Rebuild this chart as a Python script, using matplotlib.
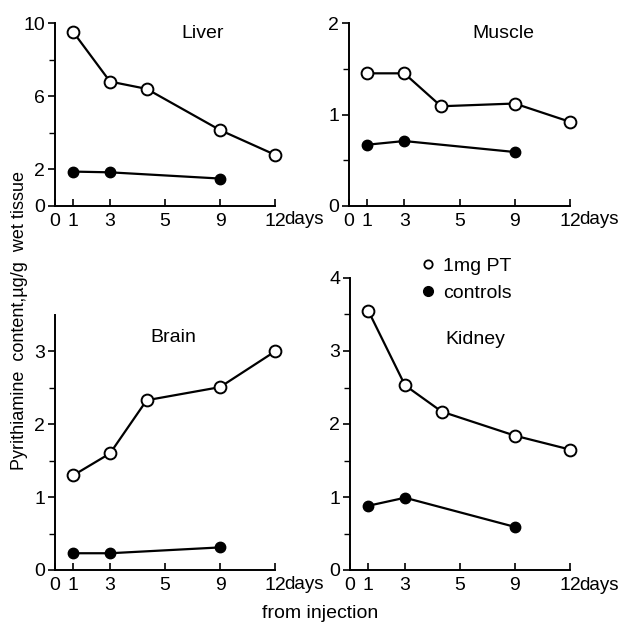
import matplotlib
matplotlib.use("Agg")
import matplotlib.pyplot as plt
from matplotlib.lines import Line2D
from matplotlib.transforms import blended_transform_factory

plt.rcParams['font.family'] = ['Liberation Sans', 'DejaVu Sans']

# day positions on the drawn axis (the original scale is uneven)
days_pt = [1, 3, 5, 9, 12]
days_ctl = [1, 3, 9]
xtick_pos = [0, 1, 3, 6, 9, 12]
xtick_lab = ["0", "1", "3", "5", "9", "12"]

liver_pt = [9.5, 6.8, 6.4, 4.15, 2.8]
liver_ctl = [1.88, 1.84, 1.5]
muscle_pt = [1.45, 1.45, 1.09, 1.12, 0.92]
muscle_ctl = [0.67, 0.71, 0.59]
brain_pt = [1.30, 1.60, 2.33, 2.51, 3.0]
brain_ctl = [0.23, 0.23, 0.31]
kidney_pt = [3.55, 2.53, 2.17, 1.84, 1.65]
kidney_ctl = [0.88, 0.99, 0.59]

W, H = 622, 627
fig = plt.figure(figsize=(6.22, 6.27), dpi=100)
FS = 14


def make_ax(x0, x1, ytop, ybot, ymax, major, minor, title, tx, ty,
            pt, ctl):
    ax = fig.add_axes([x0 / W, (H - ybot) / H, (x1 - x0) / W, (ybot - ytop) / H])
    ax.plot(days_pt, pt, '-o', color='black', lw=1.6, ms=8.5,
            mfc='white', mec='black', mew=1.4, clip_on=False, zorder=3)
    ax.plot(days_ctl, ctl, '-o', color='black', lw=1.6, ms=7.5,
            mfc='black', mec='black', clip_on=False, zorder=3)
    ax.set_xlim(0, 12)
    ax.set_ylim(0, ymax)
    for s in ['top', 'right']:
        ax.spines[s].set_visible(False)
    for s in ['left', 'bottom']:
        ax.spines[s].set_linewidth(1.4)
    ax.set_xticks(xtick_pos)
    ax.set_xticklabels(xtick_lab)
    ax.set_yticks(major)
    ax.set_yticklabels([f"{v:g}" for v in major])
    ax.set_yticks(minor, minor=True)
    ax.tick_params(axis='x', direction='in', length=5, width=1.2,
                   labelsize=FS, pad=5)
    ax.tick_params(axis='y', direction='out', length=5, width=1.2,
                   labelsize=FS, pad=2)
    ax.tick_params(axis='y', which='minor', direction='out', length=4, width=1.0)
    ax.text(tx, ty, title, transform=ax.transAxes, fontsize=FS,
            ha='center', va='center')
    tr = blended_transform_factory(ax.transData, ax.transAxes)
    ax.text(12.5, -0.025, "days", transform=tr, fontsize=13.5,
            ha='left', va='top')
    return ax


make_ax(55, 275, 23, 206, 10, [0, 2, 6, 10], [4, 8],
        "Liver", 0.67, 0.945, liver_pt, liver_ctl)
make_ax(349, 570, 23, 206, 2, [0, 1, 2], [0.5, 1.5],
        "Muscle", 0.70, 0.945, muscle_pt, muscle_ctl)
make_ax(55, 275, 315, 570, 3.5, [0, 1, 2, 3], [0.5, 1.5, 2.5],
        "Brain", 0.54, 0.91, brain_pt, brain_ctl)
make_ax(350, 570, 278, 570, 4, [0, 1, 2, 3, 4], [0.5, 1.5, 2.5, 3.5],
        "Kidney", 0.57, 0.79, kidney_pt, kidney_ctl)

handles = [
    Line2D([], [], ls='none', marker='o', ms=6, mfc='white', mec='black', mew=1.3),
    Line2D([], [], ls='none', marker='o', ms=7, mfc='black', mec='black'),
]
fig.legend(handles, ["1mg PT", "controls"], loc='upper left',
           bbox_to_anchor=(421 / W, 1 - 257 / H), frameon=False,
           fontsize=FS, handlelength=0.7, handletextpad=0.45,
           labelspacing=0.5, borderpad=0, borderaxespad=0)

fig.text(20 / W, 1 - 321 / H, "Pyrithiamine  content,\u00b5g/g  wet tissue",
         rotation=90, ha='center', va='center', fontsize=13)
fig.text(320 / W, 1 - 613 / H, "from injection", ha='center',
         va='center', fontsize=FS)

fig.savefig("out.png", dpi=100)
